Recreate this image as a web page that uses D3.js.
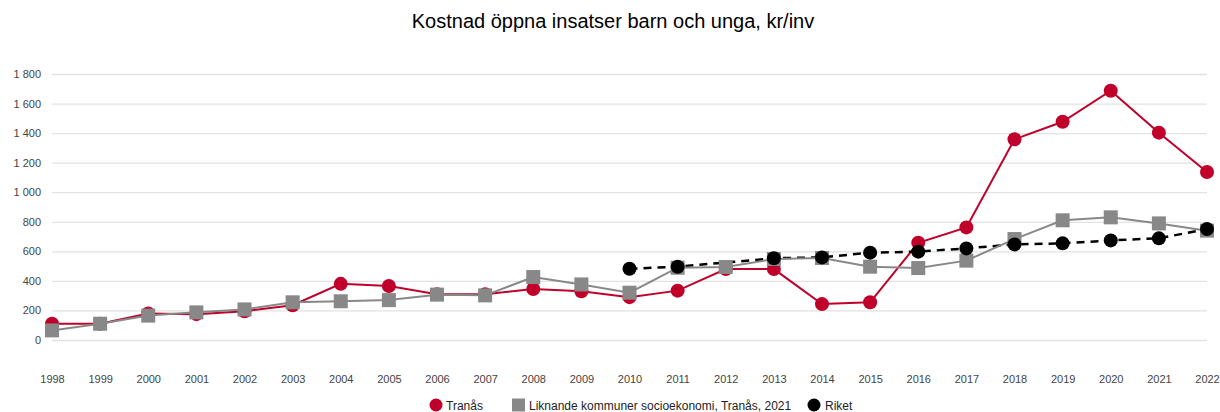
<!DOCTYPE html>
<html><head><meta charset="utf-8">
<script src="https://cdn.jsdelivr.net/npm/d3@7"></script>
<style>body{margin:0;background:#fff;}svg{display:block;font-family:"Liberation Sans",Arial,sans-serif;}</style>
</head><body>
<svg id="c" width="1220" height="412"></svg>
<script>
const years = [1998,1999,2000,2001,2002,2003,2004,2005,2006,2007,2008,2009,2010,2011,2012,2013,2014,2015,2016,2017,2018,2019,2020,2021,2022];
const tranas = [110,110,180,175,195,235,380,365,310,310,345,330,290,334,480,480,243,255,658,762,1358,1477,1687,1403,1137];
const liknande = [65,110,165,187,207,255,262,270,307,302,426,376,320,489,494,548,555,496,487,537,683,810,830,789,740];
const riketYears = [2010,2011,2012,2013,2014,2015,2016,2017,2018,2019,2020,2021,2022];
const riket = [482,496,null,553,559,591,598,620,647,654,674,688,751];
const yTicks = [0,200,400,600,800,1000,1200,1400,1600,1800];
const title = "Kostnad öppna insatser barn och unga, kr/inv";
const legendLabels = ["Tranås","Liknande kommuner socioekonomi, Tranås, 2021","Riket"];

const svg = d3.select("#c");
const x = d3.scalePoint().domain(years).range([52,1207]);
const y = d3.scaleLinear().domain([0,1800]).range([340,74]);
const fmt = v => d3.format(",")(v).replace(/,/g," ");

svg.append("text").attr("x",613).attr("y",28).attr("text-anchor","middle")
  .attr("font-size",20).attr("fill","#000").text(title);

const yAxis = d3.axisLeft(y).tickValues(yTicks).tickSize(-(1207-52)).tickFormat(fmt).tickPadding(11);
const gy = svg.append("g").attr("transform","translate(52,0)").call(yAxis);
gy.select(".domain").remove();
gy.selectAll("line").attr("stroke","#e2e2e2").attr("stroke-width",1.3);
gy.selectAll("text").attr("font-size",11).attr("fill","#444").attr("font-family","Liberation Sans,Arial,sans-serif");

const xAxis = d3.axisBottom(x).tickSize(0).tickPadding(0);
const gx = svg.append("g").attr("transform","translate(0,375)").call(xAxis);
gx.select(".domain").remove();
gx.selectAll("text").attr("font-size",11).attr("fill","#444").attr("dy","0.71em").attr("font-family","Liberation Sans,Arial,sans-serif");

const red = "#c0002a", gray = "#888888", black = "#000000";
const line = d3.line().x(d=>x(d[0])).y(d=>y(d[1]));

const tData = years.map((yr,i)=>[yr,tranas[i]]);
const lData = years.map((yr,i)=>[yr,liknande[i]]);
const rData = riketYears.map((yr,i)=>[yr,riket[i]]).filter(d=>d[1]!=null);

svg.append("path").datum(tData).attr("d",line).attr("fill","none").attr("stroke",red).attr("stroke-width",2);
svg.selectAll(".tp").data(tData).join("circle").attr("cx",d=>x(d[0])).attr("cy",d=>y(d[1])).attr("r",7).attr("fill",red);

svg.append("path").datum(rData).attr("d",line).attr("fill","none").attr("stroke",black).attr("stroke-width",2.5).attr("stroke-dasharray","8,6");

svg.append("path").datum(lData).attr("d",line).attr("fill","none").attr("stroke",gray).attr("stroke-width",2);
svg.selectAll(".lp").data(lData).join("rect").attr("x",d=>x(d[0])-7).attr("y",d=>y(d[1])-7).attr("width",14).attr("height",14).attr("fill",gray);

svg.selectAll(".rp").data(rData).join("circle").attr("cx",d=>x(d[0])).attr("cy",d=>y(d[1])).attr("r",7).attr("fill",black);

// legend
const lg = svg.append("g").attr("font-size",12).attr("fill","#222");
lg.append("circle").attr("cx",436).attr("cy",405).attr("r",6.5).attr("fill",red);
lg.append("text").attr("x",446).attr("y",409.5).text(legendLabels[0]);
lg.append("rect").attr("x",512).attr("y",398.5).attr("width",13).attr("height",13).attr("fill",gray);
lg.append("text").attr("x",529).attr("y",409.5).text(legendLabels[1]);
lg.append("circle").attr("cx",814).attr("cy",405).attr("r",6.5).attr("fill",black);
lg.append("text").attr("x",825).attr("y",409.5).text(legendLabels[2]);
</script>
</body></html>
